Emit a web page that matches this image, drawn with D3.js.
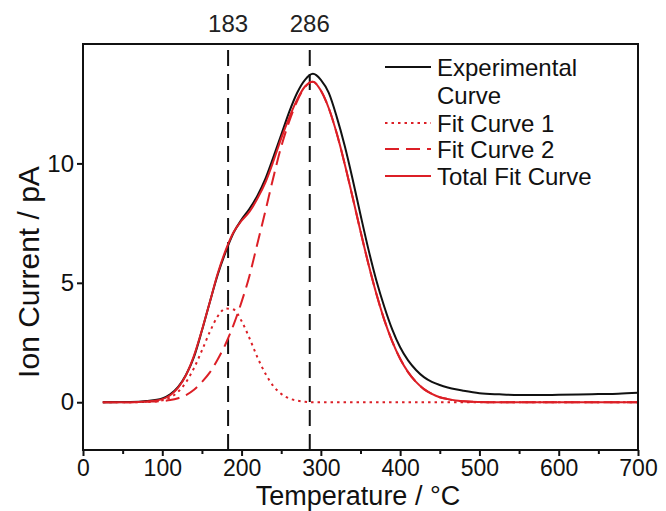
<!DOCTYPE html>
<html><head><meta charset="utf-8">
<script src="https://cdn.jsdelivr.net/npm/d3@7"></script>
<style>html,body{margin:0;padding:0;background:#fff;}svg{display:block;font-family:"Liberation Sans",Arial,sans-serif;}</style>
</head><body>
<script>
// ---- data ----
const expT = [25,60,80,100,110,120,130,140,150,160,170,180,190,200,210,220,230,240,250,260,270,280,290,300,310,320,330,340,350,360,370,380,390,400,410,420,430,440,450,460,470,480,500,525,550,575,600,625,650,675,700];
const expY = [0,0.01,0.05,0.16,0.33,0.64,1.15,1.9,3.0,4.2,5.35,6.3,7.1,7.65,8.1,8.65,9.35,10.25,11.2,12.15,12.95,13.5,13.75,13.5,12.95,11.95,10.75,9.35,7.85,6.4,5.1,4.0,3.05,2.3,1.75,1.35,1.05,0.85,0.72,0.62,0.54,0.48,0.38,0.33,0.3,0.3,0.31,0.32,0.34,0.36,0.4];

const fitT = [25,60,80,100,110,120,130,140,150,160,170,180,190,200,210,220,230,240,250,260,270,280,290,300,310,320,330,340,350,360,370,380,390,400,410,420,430,440,450,460,470,480,490,500,520,600,700];
const fit1Y = [0,0,0.01,0.08,0.2,0.44,0.84,1.43,2.17,2.95,3.6,3.92,3.88,3.4,2.68,1.88,1.2,0.68,0.35,0.16,0.07,0.02,0,0,0,0,0,0,0,0,0,0,0,0,0,0,0,0,0,0,0,0,0,0,0,0,0];
const fit2Y = [0,0,0.02,0.05,0.09,0.17,0.3,0.52,0.85,1.25,1.8,2.45,3.25,4.2,5.3,6.65,8.0,9.4,10.7,11.75,12.6,13.2,13.42,13.05,12.31,11.26,9.99,8.59,7.16,5.79,4.54,3.45,2.55,1.82,1.26,0.85,0.55,0.35,0.21,0.13,0.07,0.04,0.02,0.01,0,0,0];
const totalY = [0,0,0.03,0.13,0.29,0.61,1.14,1.95,3.02,4.2,5.4,6.37,7.13,7.6,7.98,8.53,9.2,10.08,11.05,11.91,12.67,13.22,13.42,13.05,12.31,11.26,9.99,8.59,7.16,5.79,4.54,3.45,2.55,1.82,1.26,0.85,0.55,0.35,0.21,0.13,0.07,0.04,0.02,0.01,0,0,0];

const markers = [183, 286];
const xTicks = [0,100,200,300,400,500,600,700];
const xMinor = [50,150,250,350,450,550,650];
const yTicks = [0,5,10];
const legendItems = ["Experimental\nCurve","Fit Curve 1","Fit Curve 2","Total Fit Curve"];

// ---- layout ----
const W = 666, H = 511;
const L = 83, R = 638, T = 44, B = 450;
const RED = "#dc1f26";

const svg = d3.select("body").append("svg").attr("width", W).attr("height", H);
const x = d3.scaleLinear().domain([0,700]).range([L,R]);
const y = d3.scaleLinear().domain([-2,15]).range([B,T]);

svg.append("clipPath").attr("id","clip").append("rect").attr("x",L).attr("y",T).attr("width",R-L).attr("height",B-T);
const g = svg.append("g").attr("clip-path","url(#clip)");

markers.forEach(m => {
  g.append("line").attr("x1",x(m)).attr("x2",x(m)).attr("y1",T+6).attr("y2",B)
    .attr("stroke","#111").attr("stroke-width",2).attr("stroke-dasharray","16,8");
  svg.append("text").attr("x",x(m)).attr("y",32).attr("text-anchor","middle")
    .attr("font-size",24).attr("fill","#222").text(m);
});

const line = (xs, ys) => d3.line().curve(d3.curveMonotoneX).x((d,i)=>x(xs[i])).y((d,i)=>y(ys[i]))(ys);

g.append("path").attr("d", line(fitT, fit1Y)).attr("fill","none").attr("stroke",RED).attr("stroke-width",2).attr("stroke-dasharray","2.5,4");
g.append("path").attr("d", line(fitT, fit2Y)).attr("fill","none").attr("stroke",RED).attr("stroke-width",2).attr("stroke-dasharray","14,7");
g.append("path").attr("d", line(expT, expY)).attr("fill","none").attr("stroke","#111").attr("stroke-width",2);
g.append("path").attr("d", line(fitT, totalY)).attr("fill","none").attr("stroke",RED).attr("stroke-width",2);

svg.append("rect").attr("x",L).attr("y",T).attr("width",R-L).attr("height",B-T).attr("fill","none").attr("stroke","#111").attr("stroke-width",2);

const FONT = "Liberation Sans, Arial, sans-serif";
const xAxis = d3.axisBottom(x).tickValues(xTicks).tickSize(6).tickSizeOuter(0).tickPadding(3);
const xg = svg.append("g").attr("transform",`translate(0,${B})`).call(xAxis);
xg.select(".domain").remove();
xg.selectAll(".tick line").attr("stroke","#111").attr("stroke-width",2);
xg.selectAll(".tick text").attr("font-size",23).attr("fill","#111").attr("font-family",FONT).attr("dy","0.72em");
const xm = svg.append("g").attr("transform",`translate(0,${B})`).call(d3.axisBottom(x).tickValues(xMinor).tickSize(4).tickFormat(""));
xm.select(".domain").remove();
xm.selectAll(".tick line").attr("stroke","#111").attr("stroke-width",2);

const yAxis = d3.axisLeft(y).tickValues(yTicks).tickSize(6).tickSizeOuter(0);
const yg = svg.append("g").attr("transform",`translate(${L},0)`).call(yAxis);
yg.select(".domain").remove();
yg.selectAll(".tick line").attr("stroke","#111").attr("stroke-width",2);
yg.selectAll(".tick text").attr("font-size",24).attr("fill","#111").attr("font-family",FONT).attr("x",-9);

svg.append("text").attr("x",358).attr("y",505).attr("text-anchor","middle").attr("font-size",27).attr("fill","#111").text("Temperature / °C");
svg.append("text").attr("transform",`translate(39,272) rotate(-90)`).attr("text-anchor","middle").attr("font-size",30).attr("fill","#111").text("Ion Current / pA");

const lx1 = 385, lx2 = 431, tx = 437;
const rows = [
  {y:67, stroke:"#111", dash:null},
  {y:123, stroke:RED, dash:"2.5,4"},
  {y:149, stroke:RED, dash:"14,7"},
  {y:176, stroke:RED, dash:null}
];
rows.forEach((r,i) => {
  svg.append("line").attr("x1",lx1).attr("x2",lx2).attr("y1",r.y).attr("y2",r.y)
    .attr("stroke",r.stroke).attr("stroke-width",2).attr("stroke-dasharray",r.dash);
  const lines = legendItems[i].split("\n");
  const t = svg.append("text").attr("x",tx).attr("y",r.y+8.5).attr("font-size",24).attr("fill","#111");
  lines.forEach((s,j)=> t.append("tspan").attr("x",tx).attr("dy", j===0?0:28).text(s));
});
</script>
</body></html>
